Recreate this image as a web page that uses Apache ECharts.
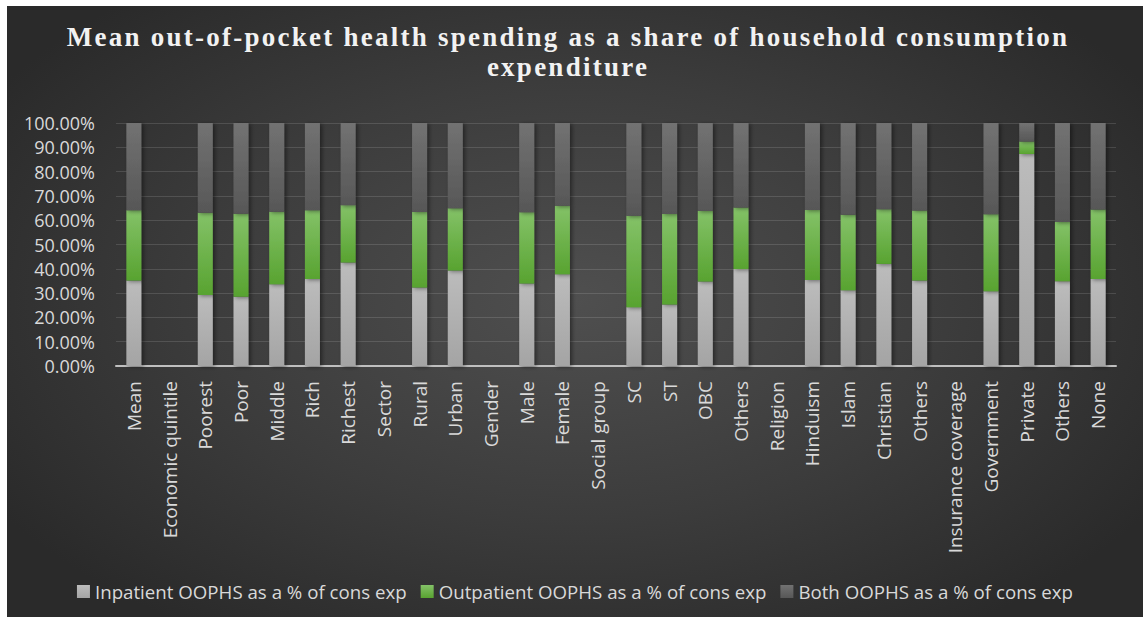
<!DOCTYPE html>
<html>
<head>
<meta charset="utf-8">
<script src="https://cdn.jsdelivr.net/npm/echarts@6/dist/echarts.min.js"></script>
<style>
  html, body { margin: 0; padding: 0; background: #ffffff; }
  #chart {
    position: absolute; left: 7px; top: 6px; width: 1136px; height: 611px;
    background: radial-gradient(ellipse 60% 65% at 50% 48%, #4f4f4f 0%, #3c3c3c 55%, #2a2a2a 100%);
  }
  /* spaced-out serif heading */
  #chart svg text[style*="Liberation Serif"] { letter-spacing: 2.25px; }
</style>
</head>
<body>
<div id="chart"></div>
<script>
// Groups and subgroups along the x axis (group headings carry no bars)
const categories = [
  'Mean', 'Economic quintile', 'Poorest', 'Poor', 'Middle', 'Rich', 'Richest',
  'Sector', 'Rural', 'Urban', 'Gender', 'Male', 'Female',
  'Social group', 'SC', 'ST', 'OBC', 'Others',
  'Religion', 'Hinduism', 'Islam', 'Christian', 'Others',
  'Insurance coverage', 'Government', 'Private', 'Others', 'None'
];

// Shares in percent of the stacked column
const inpatient = [
  35.2, null, 29.2, 28.5, 33.6, 35.8, 42.6,
  null, 32.3, 39.3, null, 34.0, 37.8,
  null, 24.2, 25.3, 34.8, 39.9,
  null, 35.4, 31.2, 42.0, 35.2,
  null, 30.8, 87.2, 34.9, 35.8
];
const outpatient = [
  28.9, null, 33.9, 34.2, 29.9, 28.3, 23.6,
  null, 31.1, 25.6, null, 29.3, 28.1,
  null, 37.6, 37.3, 29.0, 25.3,
  null, 28.8, 31.0, 22.5, 28.8,
  null, 31.6, 5.2, 24.4, 28.6
];
const both = [
  35.9, null, 36.9, 37.3, 36.5, 35.9, 33.8,
  null, 36.6, 35.1, null, 36.7, 34.1,
  null, 38.2, 37.4, 36.2, 34.8,
  null, 35.8, 37.8, 35.5, 36.0,
  null, 37.6, 7.6, 40.7, 35.6
];

const seriesNames = [
  'Inpatient OOPHS as a % of cons exp',
  'Outpatient OOPHS as a % of cons exp',
  'Both OOPHS as a % of cons exp'
];

function vgrad(top, bottom) {
  return new echarts.graphic.LinearGradient(0, 0, 0, 1, [
    { offset: 0, color: top }, { offset: 1, color: bottom }
  ]);
}

const fills = [
  vgrad('#bcbcbc', '#a4a4a4'),
  vgrad('#84c268', '#58a330'),
  vgrad('#727272', '#575757')
];

const chart = echarts.init(document.getElementById('chart'), null, { renderer: 'svg' });

function barSeries(name, data, fill) {
  return {
    name: name,
    type: 'bar',
    stack: 'share',
    data: data,
    barWidth: 15,
    itemStyle: {
      color: fill,
      shadowColor: 'rgba(0,0,0,0.45)',
      shadowBlur: 4,
      shadowOffsetX: 2,
      shadowOffsetY: 1
    },
    emphasis: { disabled: true }
  };
}

chart.setOption({
  backgroundColor: 'transparent',
  animation: false,
  title: {
    text: 'Mean out-of-pocket health spending as a share of household consumption\nexpenditure',
    left: 556,
    textAlign: 'center',
    top: 11,
    textStyle: {
      fontFamily: 'Liberation Serif',
      fontWeight: 'bold',
      fontSize: 27,
      lineHeight: 30,
      color: '#f2f2f2'
    }
  },
  legend: {
    data: seriesNames,
    left: 'center',
    top: 571,
    itemWidth: 13,
    itemHeight: 13,
    itemGap: 14,
    icon: 'rect',
    textStyle: { color: '#d9d9d9', fontSize: 18.7, fontFamily: 'Open Sans' }
  },
  grid: { left: 109, right: 27, top: 117, bottom: 251, containLabel: false },
  xAxis: {
    type: 'category',
    data: categories,
    axisLine: { lineStyle: { color: '#bfbfbf', width: 2 } },
    axisTick: { show: false },
    axisLabel: {
      interval: 0,
      rotate: 90,
      margin: 15,
      color: '#d9d9d9',
      fontSize: 19,
      fontFamily: 'Open Sans'
    }
  },
  yAxis: {
    type: 'value',
    min: 0,
    max: 100,
    interval: 10,
    axisLine: { show: false },
    axisTick: { show: false },
    axisLabel: {
      margin: 21,
      color: '#d9d9d9',
      fontSize: 18,
      fontFamily: 'Open Sans',
      formatter: v => v.toFixed(2) + '%'
    },
    splitLine: { lineStyle: { color: 'rgba(255,255,255,0.13)', width: 1 } }
  },
  series: [
    barSeries(seriesNames[0], inpatient, fills[0]),
    barSeries(seriesNames[1], outpatient, fills[1]),
    barSeries(seriesNames[2], both, fills[2])
  ]
});
</script>
</body>
</html>
